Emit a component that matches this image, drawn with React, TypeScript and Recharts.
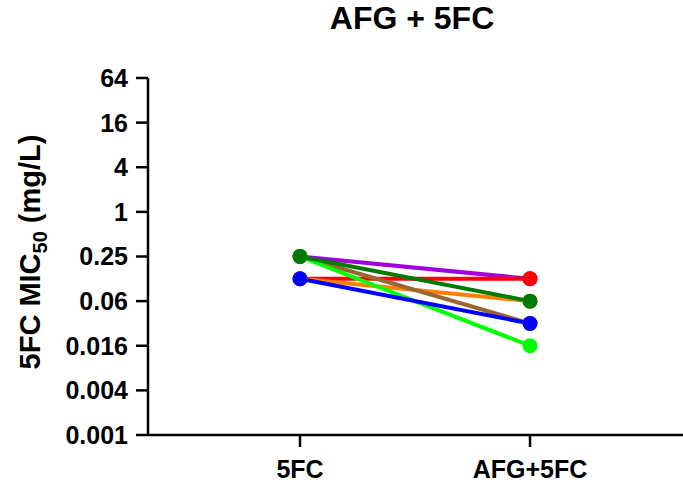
import React from "react";
import { LineChart, Line, XAxis, YAxis } from "recharts";

// MIC50 of 5FC alone vs. combined with AFG (mg/L), one line per isolate
const categories = ["5FC", "AFG+5FC"];
const purple = [0.25, 0.125];
const red = [0.125, 0.125];
const orange = [0.125, 0.0625];
const brown = [0.25, 0.03125];
const lime = [0.25, 0.015625];
const darkGreen = [0.25, 0.0625];
const blue = [0.125, 0.03125];

const yTicks = [64, 16, 4, 1, 0.25, 0.0625, 0.015625, 0.00390625, 0.0009765625];
const yTickLabels = ["64", "16", "4", "1", "0.25", "0.06", "0.016", "0.004", "0.001"];

const series = [
  { key: "purple", values: purple, color: "#a000e0" },
  { key: "red", values: red, color: "#ff0000" },
  { key: "orange", values: orange, color: "#ff8000" },
  { key: "brown", values: brown, color: "#996633" },
  { key: "lime", values: lime, color: "#00ff00" },
  { key: "darkGreen", values: darkGreen, color: "#007a00" },
  { key: "blue", values: blue, color: "#0000ff" },
];

const data = categories.map((cat, i) => {
  const row: Record<string, string | number> = { cat };
  series.forEach(s => {
    row[s.key] = s.values[i];
  });
  return row;
});

const FONT = "'Liberation Sans', Arial, sans-serif";

function YLabel() {
  return (
    <text
      transform="translate(40, 252) rotate(-90)"
      textAnchor="middle"
      fontFamily={FONT}
      fontWeight="bold"
      fontSize={29}
      fill="#000"
    >
      <tspan>5FC MIC</tspan>
      <tspan fontSize={20} dy={7}>50</tspan>
      <tspan dy={-7}> (mg/L)</tspan>
    </text>
  );
}

export default function App() {
  return (
    <div style={{ position: "absolute", left: 0, top: 0, width: 683, height: 488, background: "#fff" }}>
      <div
        style={{
          position: "absolute",
          left: 0,
          width: 824,
          top: 0,
          textAlign: "center",
          fontFamily: FONT,
          fontWeight: "bold",
          fontSize: 32,
          color: "#000",
        }}
      >
        AFG + 5FC
      </div>
      <LineChart width={683} height={488} data={data} margin={{ top: 78, right: 0, bottom: 0, left: 0 }}>
        <XAxis
          dataKey="cat"
          padding={{ left: 152, right: 153 }}
          axisLine={{ stroke: "#000", strokeWidth: 2.5 }}
          tickLine={{ stroke: "#000", strokeWidth: 2.5 }}
          tickSize={12}
          tickMargin={13}
          tick={{ fill: "#000", fontSize: 25, fontWeight: "bold", fontFamily: FONT }}
          height={53}
        />
        <YAxis
          scale="log"
          domain={[0.0009765625, 64]}
          ticks={yTicks}
          interval={0}
          allowDataOverflow
          width={148}
          axisLine={{ stroke: "#000", strokeWidth: 2.5 }}
          tickLine={{ stroke: "#000", strokeWidth: 2.5 }}
          tickSize={12}
          tickMargin={8}
          tickFormatter={(v: number) => yTickLabels[yTicks.indexOf(v)] ?? String(v)}
          tick={{ fill: "#000", fontSize: 25, fontWeight: "bold", fontFamily: FONT }}
          label={<YLabel />}
        />
        {series.map(s => (
          <Line
            key={s.key}
            dataKey={s.key}
            stroke={s.color}
            strokeWidth={4}
            dot={{ r: 7.5, fill: s.color, stroke: s.color, strokeWidth: 0 }}
            activeDot={false}
            isAnimationActive={false}
          />
        ))}
      </LineChart>
    </div>
  );
}
